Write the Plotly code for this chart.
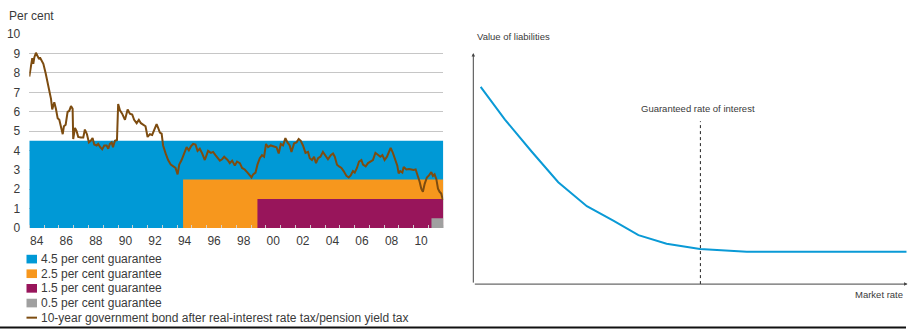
import plotly.graph_objects as go

W, H = 912, 336

# 10-year government bond yield after real-interest rate tax / pension yield tax (per cent)
bond_year = [
    1984.00, 1984.16, 1984.20, 1984.27, 1984.34, 1984.45, 1984.57, 1984.66, 1984.72, 1984.84,
    1984.95, 1985.11, 1985.28, 1985.47, 1985.55, 1985.69, 1985.80, 1985.92, 1986.03, 1986.14,
    1986.26, 1986.34, 1986.46, 1986.59, 1986.70, 1986.82, 1986.93, 1986.97, 1987.09, 1987.20,
    1987.31, 1987.49, 1987.65, 1987.76, 1987.90, 1988.03, 1988.15, 1988.28, 1988.39, 1988.55,
    1988.66, 1988.80, 1988.93, 1989.07, 1989.23, 1989.34, 1989.45, 1989.57, 1989.66, 1989.79,
    1989.93, 1990.01, 1990.13, 1990.28, 1990.47, 1990.65, 1990.80, 1990.96, 1991.09, 1991.26,
    1991.41, 1991.55, 1991.70, 1991.86, 1992.00, 1992.16, 1992.31, 1992.45, 1992.61, 1992.72,
    1992.83, 1992.95, 1993.05, 1993.22, 1993.39, 1993.57, 1993.73, 1993.89, 1994.03, 1994.14,
    1994.30, 1994.41, 1994.52, 1994.64, 1994.79, 1994.93, 1995.08, 1995.24, 1995.38, 1995.53,
    1995.69, 1995.87, 1995.99, 1996.09, 1996.28, 1996.43, 1996.59, 1996.73, 1996.89, 1997.04,
    1997.18, 1997.41, 1997.56, 1997.72, 1997.90, 1998.05, 1998.24, 1998.39, 1998.57, 1998.76,
    1998.91, 1999.03, 1999.14, 1999.30, 1999.43, 1999.59, 1999.74, 1999.88, 2000.01, 2000.15,
    2000.33, 2000.55, 2000.72, 2000.87, 2001.01, 2001.16, 2001.32, 2001.46, 2001.61, 2001.73,
    2001.91, 2002.07, 2002.22, 2002.36, 2002.51, 2002.68, 2002.85, 2002.97, 2003.12, 2003.26,
    2003.39, 2003.53, 2003.69, 2003.86, 2004.03, 2004.20, 2004.39, 2004.54, 2004.66, 2004.81,
    2004.95, 2005.11, 2005.26, 2005.45, 2005.60, 2005.74, 2005.89, 2006.01, 2006.16, 2006.30,
    2006.46, 2006.57, 2006.75, 2006.91, 2007.07, 2007.24, 2007.41, 2007.58, 2007.74, 2007.88,
    2008.03, 2008.19, 2008.32, 2008.44, 2008.59, 2008.78, 2008.89, 2008.98, 2009.09, 2009.23,
    2009.32, 2009.50, 2009.68, 2009.84, 2009.99, 2010.13, 2010.28, 2010.40, 2010.51, 2010.62,
    2010.74, 2010.89, 2011.03, 2011.19, 2011.30, 2011.41, 2011.53, 2011.64, 2011.75, 2011.86,
    2011.97,
]
bond_yield = [
    7.81, 8.55, 8.76, 8.47, 8.80, 9.04, 8.88, 8.71, 8.80, 8.60,
    8.47, 7.97, 7.31, 6.65, 6.12, 6.49, 6.15, 5.66, 5.58, 5.16,
    4.84, 5.25, 5.33, 5.99, 6.04, 6.29, 6.15, 4.59, 5.16, 5.00,
    4.70, 4.67, 4.67, 5.08, 4.84, 4.42, 4.50, 4.64, 4.31, 4.26,
    4.34, 4.17, 4.06, 4.26, 4.26, 4.09, 4.34, 4.42, 4.17, 4.50,
    4.54, 6.40, 6.07, 5.90, 5.58, 6.12, 5.90, 5.86, 5.58, 5.41,
    5.58, 5.41, 5.33, 5.25, 4.70, 4.84, 4.80, 5.08, 5.36, 5.16,
    4.92, 4.87, 4.26, 3.85, 3.51, 3.27, 3.18, 3.10, 2.77, 3.27,
    3.51, 3.76, 4.01, 4.17, 4.01, 4.21, 4.34, 4.31, 3.98, 4.09,
    3.85, 3.51, 3.76, 3.98, 3.88, 3.93, 3.76, 3.65, 3.48, 3.55,
    3.68, 3.51, 3.35, 3.48, 3.22, 3.43, 3.35, 3.10, 3.02, 2.86,
    2.72, 2.61, 2.77, 2.86, 3.27, 3.60, 3.76, 3.68, 4.34, 4.17,
    4.26, 4.21, 4.17, 3.85, 4.34, 4.26, 4.64, 4.42, 4.26, 3.93,
    4.37, 4.42, 4.59, 4.50, 4.26, 3.88, 3.93, 3.60, 3.51, 3.68,
    3.35, 3.60, 3.68, 3.93, 3.76, 3.55, 3.76, 3.85, 3.68, 3.27,
    3.18, 3.10, 2.94, 2.69, 2.61, 2.72, 2.94, 2.86, 3.10, 3.43,
    3.51, 3.27, 3.18, 3.35, 3.43, 3.51, 3.88, 3.76, 3.68, 3.76,
    3.51, 3.68, 3.93, 4.14, 3.88, 3.51, 3.22, 2.82, 2.94, 2.86,
    3.15, 3.02, 3.05, 3.02, 2.99, 3.02, 2.69, 2.39, 2.03, 1.87,
    2.28, 2.61, 2.72, 2.89, 2.69, 2.77, 2.52, 2.03, 1.87, 1.78,
    1.45,
]

# Guaranteed rates of interest on pension products and the year each one took effect
guarantee_labels = ["4.5 per cent guarantee", "2.5 per cent guarantee",
                    "1.5 per cent guarantee", "0.5 per cent guarantee"]
guarantee_rate = [4.5, 2.5, 1.5, 0.5]
guarantee_start = [1984.0, 1994.4, 1999.43, 2011.2]
period_end = 2012.0
bond_label = "10-year government bond after real-interest rate tax/pension yield tax"

year_label_pos = [1984.5 + 2 * i for i in range(14)]
year_labels = ["84", "86", "88", "90", "92", "94", "96", "98",
               "00", "02", "04", "06", "08", "10"]

# Stylised value of liabilities against the market rate
market_rate = [1.7, 7.3, 13.5, 19.6, 26.2, 32.3, 38.1, 44.6, 52.3, 63.1, 100]
liability_value = [85.4, 71.2, 57.3, 44.1, 33.7, 27.5, 21.2, 17.5, 15.2, 14.0, 14.0]
guaranteed_rate_pos = 52.4
guaranteed_line_top = 70.5

guarantee_colors = ["#0099d6", "#f7971d", "#98155b", "#a0a0a0"]
bond_color = "#7d4c10"
curve_color = "#0a9ad6"
text_color = "#3a3a3a"
sans = "Liberation Sans, Arial, sans-serif"


def px(x):
    return x / W


def py(y):
    return (H - y) / H


fig = go.Figure()

for label, rate, start, color in zip(guarantee_labels, guarantee_rate, guarantee_start, guarantee_colors):
    fig.add_trace(go.Scatter(
        x=[start, start, period_end], y=[0, rate, rate],
        mode="none", fill="tozeroy", fillcolor=color,
        name=label, showlegend=False, hoverinfo="skip",
        xaxis="x", yaxis="y",
    ))

fig.add_trace(go.Scatter(
    x=bond_year, y=bond_yield, mode="lines",
    line=dict(color=bond_color, width=2), name=bond_label,
    showlegend=False, xaxis="x", yaxis="y",
))

fig.add_trace(go.Scatter(
    x=market_rate, y=liability_value, mode="lines",
    line=dict(color=curve_color, width=2), showlegend=False,
    xaxis="x2", yaxis="y2",
))
fig.add_trace(go.Scatter(
    x=[guaranteed_rate_pos, guaranteed_rate_pos], y=[0, guaranteed_line_top],
    mode="lines", line=dict(color="#222222", width=1, dash="dot"),
    showlegend=False, xaxis="x2", yaxis="y2",
))

left_top, left_bottom = 29.3, 231.0
fig.update_layout(
    width=W, height=H,
    margin=dict(l=0, r=0, t=0, b=0),
    paper_bgcolor="white", plot_bgcolor="white",
    font=dict(family=sans, size=12, color=text_color),
    xaxis=dict(
        domain=[px(29.3), px(443.3)], range=[1984, period_end],
        tickmode="array", tickvals=year_label_pos, ticktext=year_labels,
        ticks="", showgrid=False, zeroline=False, showline=False,
        minor=dict(tick0=1984, dtick=1, ticks="inside", ticklen=3,
                   tickcolor="#d0d0d0", tickwidth=1, showgrid=False),
        ticklabelstandoff=4,
        tickfont=dict(family=sans, size=12, color=text_color),
        fixedrange=True,
    ),
    yaxis=dict(
        domain=[py(left_bottom), py(left_top - 0.5)], range=[0, 10.025],
        tickmode="array", tickvals=list(range(0, 11)),
        showgrid=True, gridcolor="#c6c6c6", gridwidth=1,
        zeroline=False, showline=False, ticks="",
        ticklabelstandoff=8,
        tickfont=dict(family=sans, size=12, color=text_color),
        fixedrange=True,
    ),
    xaxis2=dict(
        domain=[px(473.3), px(906.7)], range=[0, 100],
        showgrid=False, zeroline=False, showline=False,
        showticklabels=False, ticks="", fixedrange=True,
    ),
    yaxis2=dict(
        domain=[py(289.3), py(49)], range=[0, 100], anchor="x2",
        showgrid=False, zeroline=False, showline=False,
        showticklabels=False, ticks="", fixedrange=True,
    ),
)

annotations = [
    dict(text="Per cent", x=px(7), y=py(10), xref="paper", yref="paper",
         xanchor="left", yanchor="middle", showarrow=False,
         font=dict(family=sans, size=12, color=text_color)),
    # axes of the liabilities diagram, drawn as arrows
    dict(x=100.2, y=0, ax=0, ay=0, xref="x2", yref="y2", axref="x2", ayref="y2",
         showarrow=True, arrowhead=2, arrowsize=0.7, arrowwidth=1, arrowcolor="#444444", text=""),
    dict(x=0, y=100, ax=0, ay=0, xref="x2", yref="y2", axref="x2", ayref="y2",
         showarrow=True, arrowhead=2, arrowsize=0.7, arrowwidth=1, arrowcolor="#444444", text=""),
    dict(text="Value of liabilities", x=px(475), y=py(32), xref="paper", yref="paper",
         xanchor="left", yanchor="middle", showarrow=False,
         font=dict(family=sans, size=9.5, color=text_color)),
    dict(text="Guaranteed rate of interest", x=px(698), y=py(107), xref="paper", yref="paper",
         xanchor="center", yanchor="middle", showarrow=False,
         font=dict(family=sans, size=9.5, color=text_color)),
    dict(text="Market rate", x=px(905), y=py(300), xref="paper", yref="paper",
         xanchor="right", yanchor="middle", showarrow=False,
         font=dict(family=sans, size=9.5, color=text_color)),
]

shapes = [
    dict(type="line", xref="paper", yref="paper", x0=0, x1=px(906), y0=py(334.5), y1=py(334.5),
         line=dict(color="#111111", width=2)),
]

# Legend: colour keys and labels stacked beneath the left chart
legend_rows = [263.3, 278.5, 293.7, 309.0, 324.2]
for row, label, color in zip(legend_rows, guarantee_labels, guarantee_colors):
    shapes.append(dict(type="rect", xref="paper", yref="paper",
                       x0=px(26.5), x1=px(37), y0=py(row + 4.5), y1=py(row - 4.5),
                       fillcolor=color, line=dict(width=0)))
    annotations.append(dict(text=label, x=px(39), y=py(row), xref="paper", yref="paper",
                            xanchor="left", yanchor="middle", showarrow=False,
                            font=dict(family=sans, size=12, color=text_color)))
shapes.append(dict(type="line", xref="paper", yref="paper",
                   x0=px(26.5), x1=px(37), y0=py(legend_rows[4]), y1=py(legend_rows[4]),
                   line=dict(color=bond_color, width=2)))
annotations.append(dict(text=bond_label, x=px(39), y=py(legend_rows[4]), xref="paper", yref="paper",
                        xanchor="left", yanchor="middle", showarrow=False,
                        font=dict(family=sans, size=12, color=text_color)))

fig.update_layout(annotations=annotations, shapes=shapes)
fig.write_html("out.html")
